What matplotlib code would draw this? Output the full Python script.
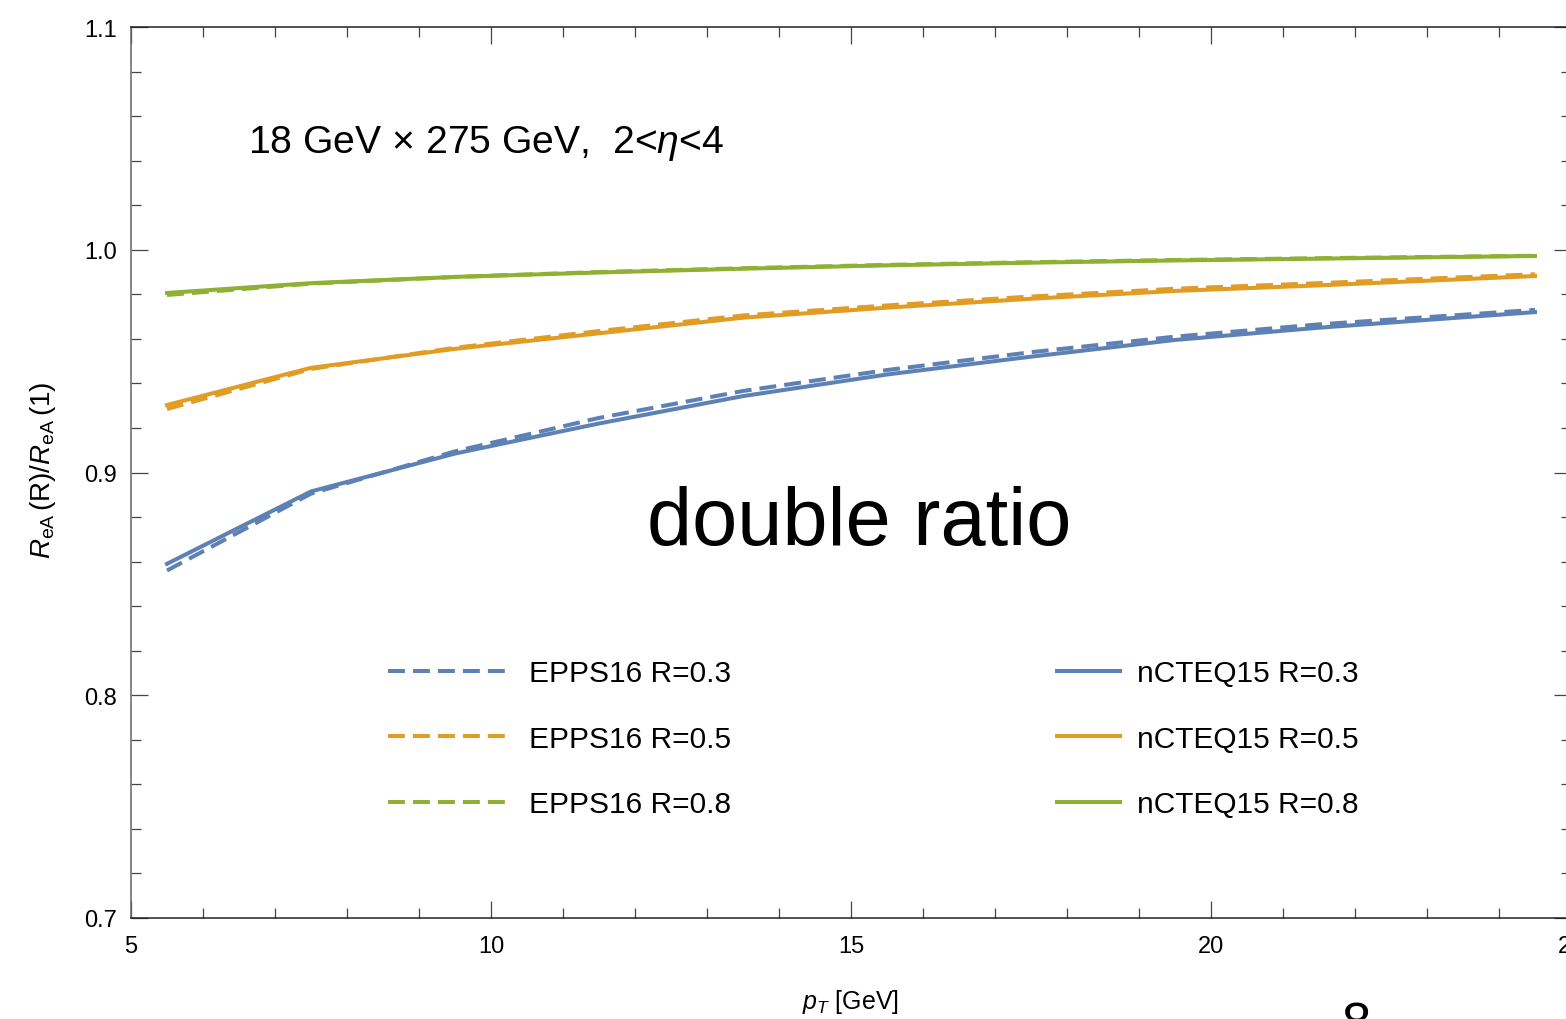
import numpy as np
import matplotlib
matplotlib.use("Agg")
import matplotlib.pyplot as plt
from matplotlib.lines import Line2D

plt.rcParams['font.family'] = ['Liberation Sans', 'DejaVu Sans']
plt.rcParams['mathtext.fontset'] = 'custom'
plt.rcParams['mathtext.rm'] = 'Liberation Sans'
plt.rcParams['mathtext.it'] = 'Liberation Sans:italic'
plt.rcParams['mathtext.bf'] = 'Liberation Sans:bold'

# ----------------------------------------------------------------------------
# Dados: razao dupla R_eA(R)/R_eA(1) em funcao de pT
# ----------------------------------------------------------------------------
pt = [5.5, 7.5, 9.5, 11.5, 13.5, 15.5, 17.5, 19.5, 21.5, 24.5]

nCTEQ15_R03 = [0.859, 0.8915, 0.9085, 0.922, 0.9343, 0.944, 0.952, 0.9595, 0.965, 0.972]
nCTEQ15_R05 = [0.9303, 0.947, 0.9555, 0.9625, 0.9695, 0.974, 0.978, 0.9815, 0.984, 0.9882]
nCTEQ15_R08 = [0.9806, 0.985, 0.9878, 0.9898, 0.9915, 0.993, 0.9942, 0.9952, 0.996, 0.9972]

EPPS16_R03 = [0.856, 0.8905, 0.9095, 0.9245, 0.9366, 0.946, 0.954, 0.961, 0.9665, 0.973]
EPPS16_R05 = [0.9285, 0.9465, 0.956, 0.9635, 0.9705, 0.975, 0.979, 0.9825, 0.985, 0.989]
EPPS16_R08 = [0.9797, 0.9848, 0.9878, 0.99, 0.9917, 0.9932, 0.9944, 0.9954, 0.9962, 0.9973]

radii = ['0.3', '0.5', '0.8']
colors = ['#5E81B5', '#E19C24', '#8FB032']

LW = 2.9
DASH = (0, (4.2, 2.0))

# ----------------------------------------------------------------------------
# Figura
# ----------------------------------------------------------------------------
fig = plt.figure(figsize=(15.66, 10.2), dpi=100)
ax = fig.add_axes([131 / 1566, 101 / 1020, 1440 / 1566, 891 / 1020])

epps = [EPPS16_R03, EPPS16_R05, EPPS16_R08]
ncteq = [nCTEQ15_R03, nCTEQ15_R05, nCTEQ15_R08]

for i in range(len(radii)):
    ax.plot(pt, epps[i], color=colors[i], lw=LW, linestyle=DASH)
    ax.plot(pt, ncteq[i], color=colors[i], lw=LW)

# Eixos
ax.set_xlim(5, 25)
ax.set_ylim(0.7, 1.1)
ax.set_xticks([5, 10, 15, 20, 25])
ax.set_xticks(np.arange(5, 26, 1), minor=True)
ax.set_yticks([0.7, 0.8, 0.9, 1.0, 1.1])
ax.set_yticks(np.arange(0.7, 1.101, 0.02), minor=True)
ax.set_yticklabels(['0.7', '0.8', '0.9', '1.0', '1.1'])

ax.tick_params(which='both', direction='in', top=True, right=True,
               labelsize=17, colors='#444444', labelcolor='black')
ax.tick_params(which='major', length=12, width=0.9)
ax.tick_params(which='minor', length=7, width=0.9)
ax.tick_params(axis='x', pad=12)
ax.tick_params(axis='y', pad=10)

for side in ['left', 'right']:
    ax.spines[side].set_color('#666666')
for side in ['top', 'bottom']:
    ax.spines[side].set_color('#222222')
for s in ax.spines.values():
    s.set_linewidth(1.1)

ax.set_xlabel(r'$p_T$ [GeV]', fontsize=18)
ax.xaxis.set_label_coords((850 - 131) / 1440, -(988 - 919) / 891)
ax.set_ylabel(r'$R_{\mathrm{eA}}\,(\mathrm{R})/R_{\mathrm{eA}}\,(1)$', fontsize=20)
ax.yaxis.set_label_coords(-(131 - 58) / 1440, (919 - 470) / 891)

# Textos
ax.text(6.625, 1.0439, r'18 GeV × 275 GeV,  2<$\eta$<4', fontsize=28.2,
        va='baseline', ha='left')
ax.text(15.12, 0.8679, 'double ratio', fontsize=58.5, va='baseline', ha='center')

# Legendas (duas colunas)
h_epps = [Line2D([], [], color=c, lw=LW, linestyle=DASH) for c in colors]
h_ncteq = [Line2D([], [], color=c, lw=LW) for c in colors]

leg_y = (919 - 660) / 891
leg1 = ax.legend(h_epps, ['EPPS16 R=' + r for r in radii],
                 loc='upper left', bbox_to_anchor=((388 - 131) / 1440, leg_y),
                 frameon=False, fontsize=21.5, handlelength=3.93,
                 handletextpad=0.8, labelspacing=1.26, borderpad=0, borderaxespad=0)
ax.add_artist(leg1)
ax.legend(h_ncteq, ['nCTEQ15 R=' + r for r in radii],
          loc='upper left', bbox_to_anchor=((1057 - 131) / 1440, leg_y),
          frameon=False, fontsize=21.5, handlelength=2.1,
          handletextpad=0.57, labelspacing=1.26, borderpad=0, borderaxespad=0)

# numero da pagina, cortado na borda inferior
fig.text(1356 / 1566, 1 - 1002 / 1020, '8', fontsize=38, ha='center', va='top')

fig.savefig('out.png', dpi=100)
